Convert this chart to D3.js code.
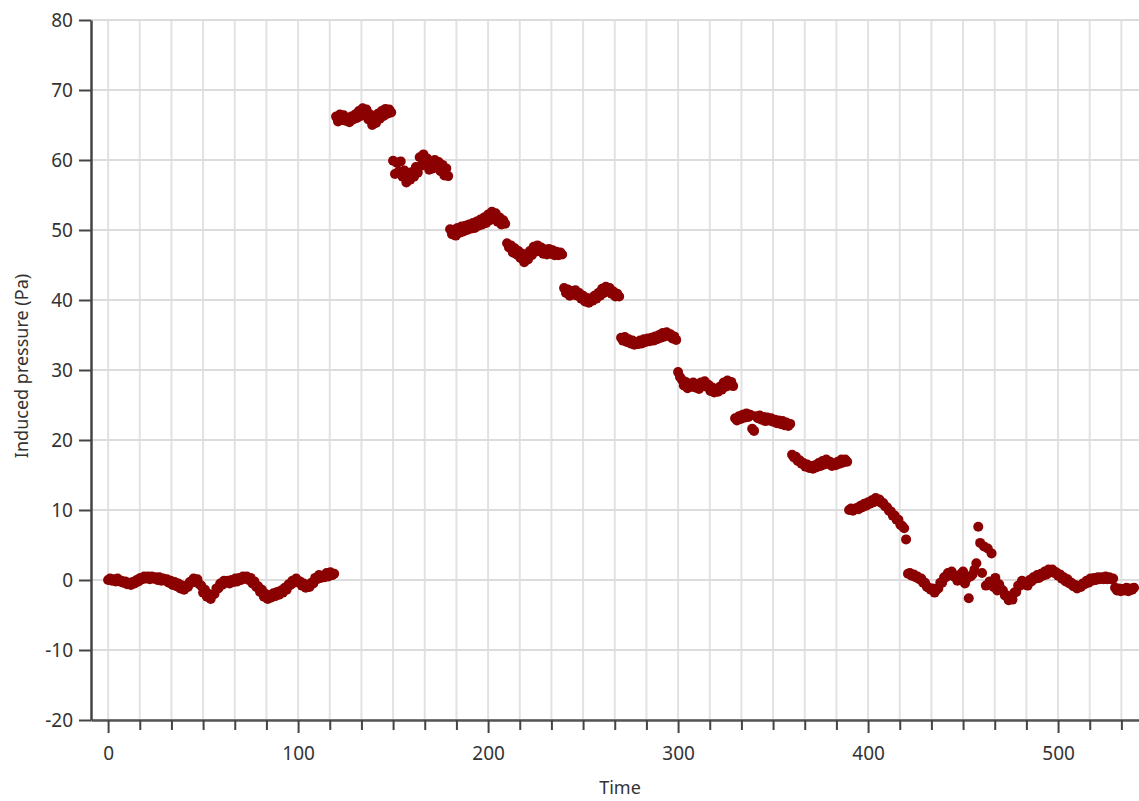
<!DOCTYPE html>
<html>
<head>
<meta charset="utf-8">
<script src="https://cdn.jsdelivr.net/npm/d3@7"></script>
<style>
  body { margin: 0; background: #fff; }
  svg text { font-family: "Noto Sans", "Open Sans", sans-serif; fill: #333; }
</style>
</head>
<body>
<svg id="chart" width="1139" height="801"></svg>
<script>
// induced pressure (Pa), one sample per second
// each array is one level; its first sample time is in segmentStart
const baselineBefore = [
  0, 0.2, -0.1, 0.1, -0.2, 0.2, -0.2, -0.1, -0.4, -0.2, -0.6, -0.4, -0.7, -0.3, -0.5, 0, -0.2, 0.3, 0.1, 0.5,
  0.2, 0.5, 0.1, 0.5, 0.2, 0.4, 0, 0.4, -0.1, 0.2, -0.1, 0.1, -0.4, -0.1, -0.7, -0.3, -0.9, -0.5, -1.2, -0.8,
  -1.4, -0.9, -1.0, -0.3, -0.4, 0.2, -0.1, 0.1, -0.6, -0.8, -1.8, -1.4, -2.4, -2.0, -2.7, -2.1, -2.0, -1.2, -1.2, -0.5,
  -0.7, -0.1, -0.4, -0.1, -0.5, 0, -0.3, 0.2, -0.2, 0.3, 0, 0.5, 0.2, 0.5, 0, 0.3, -0.5, -0.2, -1.0, -0.9,
  -1.7, -1.4, -2.4, -2.0, -2.7, -2.2, -2.5, -1.9, -2.3, -1.7, -2.1, -1.5, -1.8, -1.1, -1.4, -0.6, -0.7, -0.1, -0.4, 0.2,
  -0.3, -0.2, -0.8, -0.5, -1.1, -0.7, -1.0, -0.4, -0.5, 0.3, 0.1, 0.7, 0.3, 0.6, 0.4, 1.0, 0.5, 1.1, 0.7, 0.9
];
const level66 = [
  66.2, 65.5, 66.5, 65.7, 66.4, 65.6, 66.0, 65.4, 66.2, 65.8, 66.5, 66.0, 67.0, 66.3, 67.4,
  66.8, 67.2, 65.8, 66.5, 65.0, 65.8, 65.3, 66.6, 65.9, 67.0, 66.3, 67.3, 66.6, 67.2, 66.8
];
const level59 = [
  59.9, 58.0, 59.6, 58.4, 59.8, 57.6, 58.5, 56.8, 57.8, 57.2, 58.3, 57.6, 59.0, 58.2, 60.4,
  59.2, 60.8, 59.4, 60.2, 58.6, 59.6, 58.8, 60.0, 59.0, 59.7, 58.4, 59.3, 57.8, 58.8, 57.7
];
const level50 = [
  50.1, 49.4, 50.0, 49.2, 50.3, 49.6, 50.5, 49.8, 50.6, 50.0, 50.8, 50.2, 51.0, 50.3, 51.2,
  50.6, 51.5, 50.8, 51.8, 51.0, 52.2, 51.4, 52.6, 51.8, 52.4, 51.2, 51.8, 50.8, 51.4, 50.9
];
const level47 = [
  48.1, 47.5, 47.8, 46.8, 47.4, 46.5, 47.0, 46.0, 46.6, 45.4, 46.2, 45.8, 47.0, 46.4, 47.6,
  46.9, 47.8, 47.0, 47.5, 46.6, 47.2, 46.5, 47.3, 46.6, 47.1, 46.4, 46.9, 46.4, 46.8, 46.5
];
const level41 = [
  41.7, 41.0, 41.5, 40.6, 41.3, 40.8, 41.4, 40.6, 41.0, 40.2, 40.6, 39.8, 40.3, 39.6, 40.2,
  39.9, 40.6, 40.2, 41.0, 40.6, 41.6, 41.0, 41.9, 41.3, 41.7, 40.9, 41.2, 40.5, 40.9, 40.5
];
const level34 = [
  34.6, 34.2, 34.7, 34.0, 34.4, 33.8, 34.2, 33.6, 34.0, 33.7, 34.2, 33.8, 34.4, 34.0, 34.5,
  34.1, 34.6, 34.2, 34.8, 34.4, 35.0, 34.6, 35.3, 34.8, 35.4, 34.9, 35.1, 34.5, 34.8, 34.3
];
const level28 = [
  29.7, 29.0, 28.6, 27.8, 28.3, 27.4, 28.0, 27.6, 28.2, 27.5, 28.0, 27.3, 28.2, 27.7, 28.4,
  27.6, 27.9, 27.0, 27.5, 26.8, 27.3, 26.9, 27.6, 27.2, 28.2, 27.6, 28.5, 27.8, 28.3, 27.7
];
const level23 = [
  23.1, 22.8, 23.4, 23.0, 23.6, 23.2, 23.8, 23.3, 23.6, 21.6, 21.3, 23.4, 23.1, 23.5, 22.9,
  23.3, 22.7, 23.2, 22.8, 23.1, 22.6, 22.9, 22.4, 22.8, 22.3, 22.7, 22.1, 22.5, 22.0, 22.3
];
const level17 = [
  17.9, 17.5, 17.6, 17.0, 17.1, 16.6, 16.7, 16.2, 16.5, 16.0, 16.3, 15.9, 16.4, 16.1, 16.7,
  16.3, 17.0, 16.5, 17.2, 16.6, 16.9, 16.3, 16.6, 16.4, 16.9, 16.6, 17.2, 16.8, 17.2, 16.9
];
const level10 = [
  10.0, 10.2, 9.9, 10.1, 10.3, 10.1, 10.6, 10.4, 10.9, 10.6, 11.1, 10.9, 11.4, 11.1, 11.7,
  11.3, 11.5, 11.0, 11.0, 10.5, 10.4, 9.9, 9.8, 9.2, 9.2, 8.6, 8.6, 7.9, 7.7, 7.4, 5.8
];
const baselineAfter = [
  0.9, 1.0, 0.6, 0.8, 0.4, 0.5, 0.1, 0.2, -0.4, -0.4, -1.0, -1.1, -1.4, -1.2, -1.8, -1.4, -1.2, -0.4, -0.4, 0.4,
  0.4, 1.0, 0.8, 1.2, 0.5, 0.6, -0.1, 0.6, 0.9, 1.2, -0.5, 0.2, -2.6, 0.5, 0.8, 1.5, 2.4, 7.6, 5.3, 1.0,
  4.8, -0.8, 4.5, -0.2, 3.8, -1.0, 0.3, -1.5, -0.6, -1.3, -1.5, -2.2, -2.2, -2.9, -2.4, -2.8, -1.8, -1.7, -0.8, -0.8,
  -0.1, -0.6, -0.5, -0.8, 0, -0.2, 0.4, 0.2, 0.7, 0.3, 0.9, 0.6, 1.2, 0.8, 1.5, 1.1, 1.5, 1.0, 1.1, 0.6,
  0.8, 0.2, 0.4, -0.2, 0.1, -0.5, -0.4, -0.9, -0.7, -1.2, -0.9, -1.0, -0.5, -0.6, -0.1, -0.4, 0.2, -0.1, 0.3, 0,
  0.4, 0.1, 0.4, 0.1, 0.5, 0.1, 0.4, 0.1, 0.2, -1.1, -1.5, -1.2, -1.6, -1.3, -1.5, -1.1, -1.6, -1.2, -1.4, -1.1
];

const segments = [baselineBefore, level66, level59, level50, level47, level41,
                  level34, level28, level23, level17, level10, baselineAfter];
const segmentStart = [0, 120, 150, 180, 210, 240, 270, 300, 330, 360, 390, 421];

const xLabelTicks = [0, 100, 200, 300, 400, 500];
const yTicks = [-20, -10, 0, 10, 20, 30, 40, 50, 60, 70, 80];

// samples are 1 s apart inside each segment
const points = segments.flatMap((vals, s) =>
  vals.map((p, i) => ({ t: segmentStart[s] + i, p: p })));

const svg = d3.select("#chart");

const x = d3.scaleLinear().domain([-9, 542.6]).range([91, 1139]);
const y = d3.scaleLinear().domain([-20, 80]).range([720, 20]);

// minor ticks every 100/6 s, like the original
const xMinorTicks = d3.range(0, 540, 100 / 6);
const isMajor = d => xLabelTicks.some(m => Math.abs(m - d) < 1e-6);

const grid = svg.append("g").attr("class", "grid");
grid.selectAll("line.v")
  .data(xMinorTicks)
  .enter().append("line")
  .attr("class", "v")
  .attr("x1", d => x(d)).attr("x2", d => x(d))
  .attr("y1", y(80)).attr("y2", y(-20))
  .attr("stroke", "#e2e2e2")
  .attr("stroke-width", 2);
grid.selectAll("line.h")
  .data(yTicks)
  .enter().append("line")
  .attr("class", "h")
  .attr("x1", x.range()[0]).attr("x2", x.range()[1])
  .attr("y1", d => y(d)).attr("y2", d => y(d))
  .attr("stroke", "#dcdcdc")
  .attr("stroke-width", 2);

svg.append("g")
  .selectAll("circle")
  .data(points)
  .enter().append("circle")
  .attr("cx", d => x(d.t))
  .attr("cy", d => y(d.p))
  .attr("r", 5)
  .attr("fill", "#8b0000");

// x axis
const xAxis = svg.append("g")
  .attr("transform", `translate(0,${y(-20)})`)
  .call(d3.axisBottom(x)
    .tickValues(xMinorTicks)
    .tickSize(10)
    .tickSizeOuter(0)
    .tickFormat(d => isMajor(d) ? String(Math.round(d)) : ""));
xAxis.select(".domain").attr("stroke", "#555").attr("stroke-width", 2.5);
xAxis.selectAll(".tick line")
  .attr("stroke", "#444")
  .attr("stroke-width", 2)
  .attr("y2", d => isMajor(d) ? 13 : 10);
xAxis.selectAll(".tick text")
  .attr("y", 27)
  .attr("dy", "0.71em")
  .style("font-size", "19px");

// y axis (plain hyphen for negatives, as in the original)
const yAxis = svg.append("g")
  .attr("transform", `translate(${x.range()[0]},0)`)
  .call(d3.axisLeft(y).tickValues(yTicks).tickSize(12).tickSizeOuter(0).tickPadding(6)
    .tickFormat(d => String(d)));
yAxis.select(".domain").attr("stroke", "#444").attr("stroke-width", 2.5);
yAxis.selectAll(".tick line").attr("stroke", "#444").attr("stroke-width", 2);
yAxis.selectAll(".tick text").style("font-size", "19px");

// axis titles
svg.append("text")
  .attr("x", 620).attr("y", 794)
  .attr("text-anchor", "middle")
  .style("font-size", "18px")
  .text("Time");

svg.append("text")
  .attr("transform", "translate(28,366) rotate(-90)")
  .attr("text-anchor", "middle")
  .style("font-size", "18px")
  .text("Induced pressure (Pa)");
</script>
</body>
</html>
